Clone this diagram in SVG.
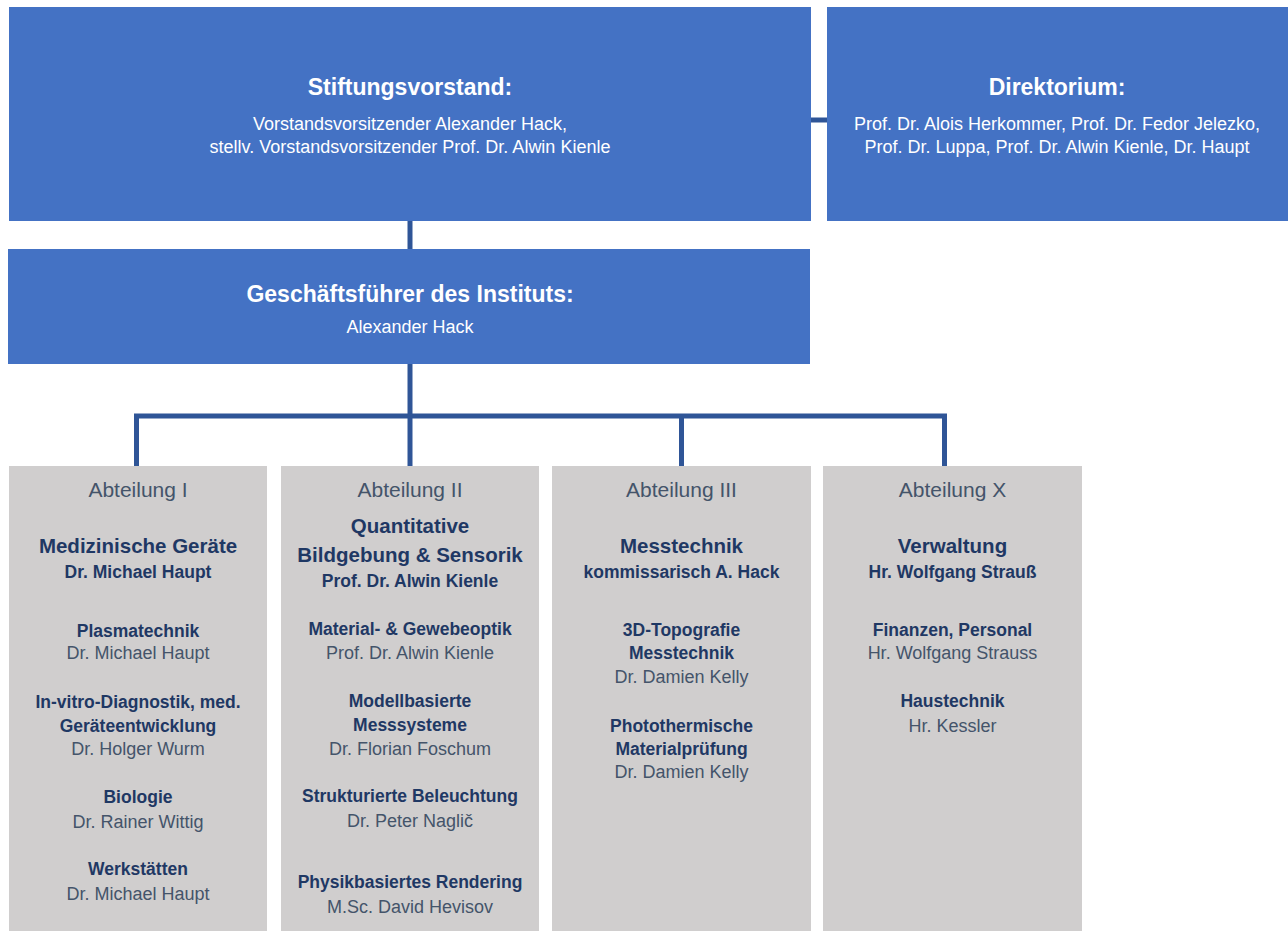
<svg xmlns="http://www.w3.org/2000/svg" width="1288" height="931" viewBox="0 0 1288 931">
<style>
.blue{fill:#4472C4}
.grey{fill:#D0CECE}
.conn{stroke:#2F5597;stroke-width:5;fill:none;stroke-linecap:butt}
text{font-family:"Liberation Sans",Arial,sans-serif;text-anchor:middle}
.wt{fill:#FFFFFF;font-weight:bold;font-size:23px}
.wl{fill:#FFFFFF;font-size:18px}
.abt{fill:#44546A;font-size:21px}
.mt{fill:#1F3864;font-weight:bold;font-size:20.5px}
.st{fill:#1F3864;font-weight:bold;font-size:17.5px}
.nm{fill:#44546A;font-size:18px}
</style>
<rect width="1288" height="931" fill="#FFFFFF"/>
<g id="connectors">
<line class="conn" x1="811" y1="120" x2="827" y2="120"/>
<line class="conn" x1="410" y1="221" x2="410" y2="249"/>
<line class="conn" x1="410" y1="363" x2="410" y2="416"/>
<line class="conn" x1="134" y1="416" x2="947" y2="416"/>
<line class="conn" x1="136.5" y1="416" x2="136.5" y2="466"/>
<line class="conn" x1="410" y1="416" x2="410" y2="466"/>
<line class="conn" x1="681.5" y1="416" x2="681.5" y2="466"/>
<line class="conn" x1="944.5" y1="416" x2="944.5" y2="466"/>
</g>
<g id="stiftungsvorstand">
<rect class="blue" x="9" y="7" width="802" height="214"/>
<text class="wt" x="410" y="95">Stiftungsvorstand:</text>
<text class="wl" x="410" y="130">Vorstandsvorsitzender Alexander Hack,</text>
<text class="wl" x="410" y="153">stellv. Vorstandsvorsitzender Prof. Dr. Alwin Kienle</text>
</g>
<g id="direktorium">
<rect class="blue" x="827" y="7" width="461" height="214"/>
<text class="wt" x="1057" y="95">Direktorium:</text>
<text class="wl" x="1057" y="130">Prof. Dr. Alois Herkommer, Prof. Dr. Fedor Jelezko,</text>
<text class="wl" x="1057" y="153">Prof. Dr. Luppa, Prof. Dr. Alwin Kienle, Dr. Haupt</text>
</g>
<g id="geschaeftsfuehrer">
<rect class="blue" x="8" y="249" width="802" height="115"/>
<text class="wt" x="410" y="302">Geschäftsführer des Instituts:</text>
<text class="wl" x="410" y="333">Alexander Hack</text>
</g>
<g id="abteilung1">
<rect class="grey" x="9" y="466" width="258" height="465"/>
<text class="abt" x="138" y="497">Abteilung I</text>
<text class="mt" x="138" y="553">Medizinische Geräte</text>
<text class="st" x="138" y="578">Dr. Michael Haupt</text>
<text class="st" x="138" y="637">Plasmatechnik</text>
<text class="nm" x="138" y="659">Dr. Michael Haupt</text>
<text class="st" x="138" y="708">In-vitro-Diagnostik, med.</text>
<text class="st" x="138" y="732">Geräteentwicklung</text>
<text class="nm" x="138" y="755">Dr. Holger Wurm</text>
<text class="st" x="138" y="803">Biologie</text>
<text class="nm" x="138" y="828">Dr. Rainer Wittig</text>
<text class="st" x="138" y="875">Werkstätten</text>
<text class="nm" x="138" y="900">Dr. Michael Haupt</text>
</g>
<g id="abteilung2">
<rect class="grey" x="281" y="466" width="258" height="465"/>
<text class="abt" x="410" y="497">Abteilung II</text>
<text class="mt" x="410" y="533">Quantitative</text>
<text class="mt" x="410" y="562">Bildgebung &amp; Sensorik</text>
<text class="st" x="410" y="587">Prof. Dr. Alwin Kienle</text>
<text class="st" x="410" y="635">Material- &amp; Gewebeoptik</text>
<text class="nm" x="410" y="659">Prof. Dr. Alwin Kienle</text>
<text class="st" x="410" y="707">Modellbasierte</text>
<text class="st" x="410" y="731">Messsysteme</text>
<text class="nm" x="410" y="755">Dr. Florian Foschum</text>
<text class="st" x="410" y="802">Strukturierte Beleuchtung</text>
<text class="nm" x="410" y="827">Dr. Peter Naglič</text>
<text class="st" x="410" y="888">Physikbasiertes Rendering</text>
<text class="nm" x="410" y="913">M.Sc. David Hevisov</text>
</g>
<g id="abteilung3">
<rect class="grey" x="552" y="466" width="259" height="465"/>
<text class="abt" x="681.5" y="497">Abteilung III</text>
<text class="mt" x="681.5" y="553">Messtechnik</text>
<text class="st" x="681.5" y="578">kommissarisch A. Hack</text>
<text class="st" x="681.5" y="636">3D-Topografie</text>
<text class="st" x="681.5" y="659">Messtechnik</text>
<text class="nm" x="681.5" y="683">Dr. Damien Kelly</text>
<text class="st" x="681.5" y="732">Photothermische</text>
<text class="st" x="681.5" y="755">Materialprüfung</text>
<text class="nm" x="681.5" y="778">Dr. Damien Kelly</text>
</g>
<g id="abteilungX">
<rect class="grey" x="823" y="466" width="259" height="465"/>
<text class="abt" x="952.5" y="497">Abteilung X</text>
<text class="mt" x="952.5" y="553">Verwaltung</text>
<text class="st" x="952.5" y="578">Hr. Wolfgang Strauß</text>
<text class="st" x="952.5" y="636">Finanzen, Personal</text>
<text class="nm" x="952.5" y="659">Hr. Wolfgang Strauss</text>
<text class="st" x="952.5" y="707">Haustechnik</text>
<text class="nm" x="952.5" y="732">Hr. Kessler</text>
</g>
</svg>
